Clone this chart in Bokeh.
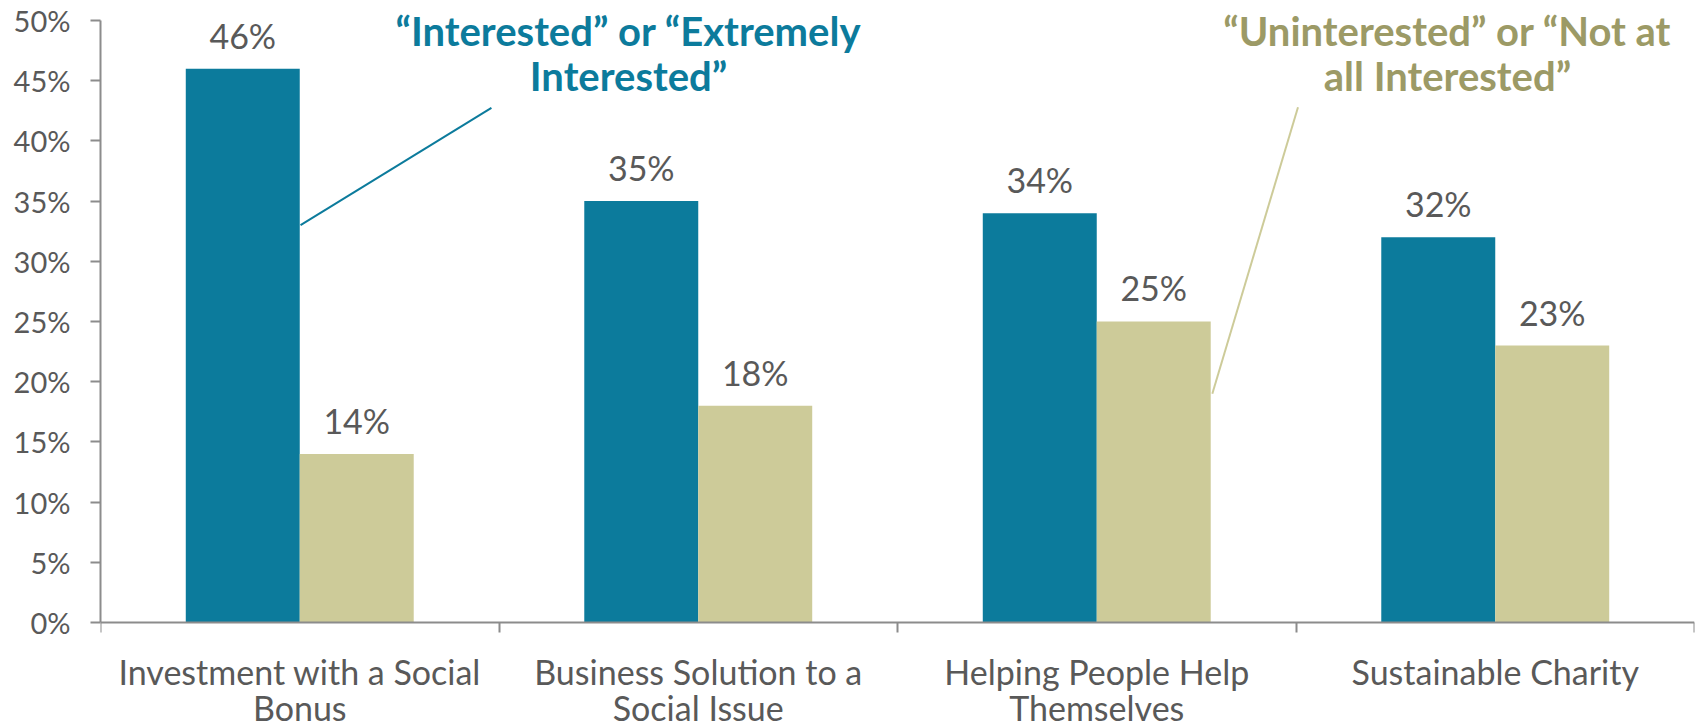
from bokeh.plotting import figure
from bokeh.models import (ColumnDataSource, Range1d, FixedTicker, PrintfTickFormatter,
                          LabelSet, Label, Segment)
from bokeh.core.properties import value
from bokeh.embed import file_html
from bokeh.resources import INLINE

categories = ["Investment with a Social\nBonus", "Business Solution to a\nSocial Issue",
              "Helping People Help\nThemselves", "Sustainable Charity"]
interested = [46, 35, 34, 32]
uninterested = [14, 18, 25, 23]
y_ticks = [0, 5, 10, 15, 20, 25, 30, 35, 40, 45, 50]

BLUE = "#0C7B9C"
TAN = "#CDCB99"
OLIVE = "#9C9A66"
GREY = "#595959"
AXIS = "#8C8C8C"
FONT = "Lato"

n = len(categories)
pos = [i + 0.5 for i in range(n)]
bw = 0.286

src = ColumnDataSource(dict(
    xb=[p - bw / 2 for p in pos], xt=[p + bw / 2 for p in pos],
    yb=interested, yt=uninterested,
    lb=[f"{v}%" for v in interested], lt=[f"{v}%" for v in uninterested]))

# frame covers the whole height so that the annotation texts and
# category labels (drawn below the zero line) are never clipped
p = figure(width=1701, height=727, output_backend="svg", toolbar_location=None,
           x_range=Range1d(0, n), y_range=Range1d(-8.72, 51.66),
           min_border_left=100, min_border_right=7, min_border_top=0, min_border_bottom=0)
p.outline_line_color = None
p.grid.grid_line_color = None
p.background_fill_color = "white"

p.vbar(x="xb", top="yb", width=bw, bottom=0, source=src, fill_color=BLUE, line_color=None)
p.vbar(x="xt", top="yt", width=bw, bottom=0, source=src, fill_color=TAN, line_color=None)

for col_x, col_y, col_l in (("xb", "yb", "lb"), ("xt", "yt", "lt")):
    p.add_layout(LabelSet(x=col_x, y=col_y, text=col_l, source=src, y_offset=20,
                          text_align="center", text_baseline="alphabetic",
                          text_font=value(FONT), text_font_size=value("34px"),
                          text_color=value(GREY)))

# y axis
ya = p.yaxis[0]
ya.bounds = (0, 50)
ya.ticker = FixedTicker(ticks=y_ticks)
ya.formatter = PrintfTickFormatter(format="%d%%")
ya.axis_line_color = AXIS
ya.axis_line_width = 2
ya.major_tick_line_color = AXIS
ya.major_tick_line_width = 2
ya.major_tick_in = 0
ya.major_tick_out = 10
ya.minor_tick_line_color = None
ya.major_label_text_font = FONT
ya.major_label_text_font_size = "29px"
ya.major_label_text_color = GREY
ya.major_label_standoff = 20

# x axis at zero: boundary ticks only, category labels drawn below
xa = p.xaxis[0]
xa.fixed_location = 0
xa.ticker = FixedTicker(ticks=[], minor_ticks=list(range(n + 1)))
xa.axis_line_color = AXIS
xa.axis_line_width = 2
xa.major_tick_line_color = None
xa.minor_tick_line_color = AXIS
xa.minor_tick_line_width = 2
xa.minor_tick_in = 0
xa.minor_tick_out = 10
xa.major_label_text_font_size = "0px"

for i, cat in enumerate(categories):
    for j, line in enumerate(cat.split("\n")):
        p.add_layout(Label(x=pos[i], y=0, y_offset=-49 - 36 * j, text=line,
                           text_align="center", text_baseline="alphabetic",
                           text_font=FONT, text_font_size="34px", text_color=GREY))

# annotations
ann = dict(text_align="center", text_baseline="alphabetic", text_font=FONT,
           text_font_style="bold", text_font_size="40px")
p.add_layout(Label(x=1.325, y=49.14, text="“Interested” or “Extremely", text_color=BLUE, **ann))
p.add_layout(Label(x=1.325, y=45.41, text="Interested”", text_color=BLUE, **ann))
p.add_layout(Label(x=3.38, y=49.14, text="“Uninterested” or “Not at", text_color=OLIVE, **ann))
p.add_layout(Label(x=3.38, y=45.41, text="all Interested”", text_color=OLIVE, **ann))

lead = ColumnDataSource(dict(x0=[0.502, 2.79], y0=[33.0, 19.0], x1=[0.981, 3.005], y1=[42.75, 42.8],
                             c=[BLUE, TAN]))
p.add_glyph(lead, Segment(x0="x0", y0="y0", x1="x1", y1="y1", line_color="c", line_width=2))

open("out.html", "w").write(file_html(p, INLINE))
